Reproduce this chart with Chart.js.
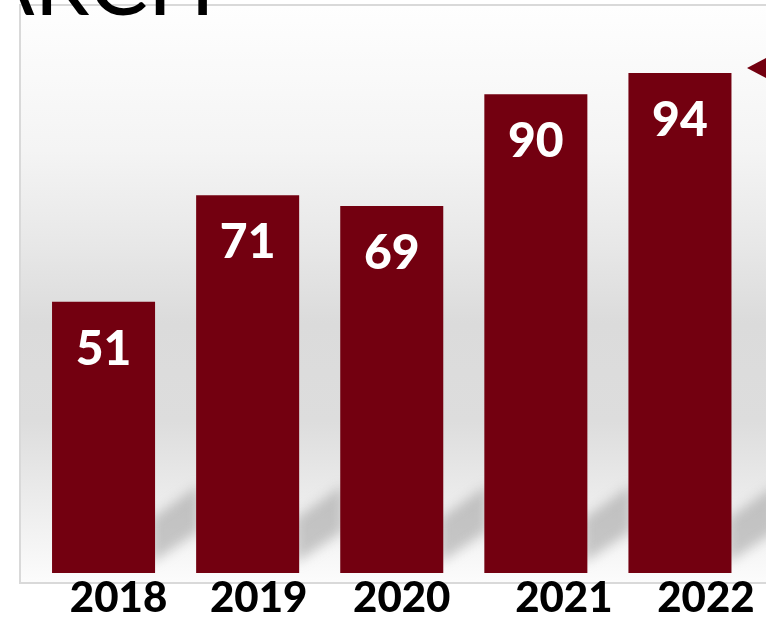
<!DOCTYPE html>
<html>
<head>
<meta charset="utf-8">
<script src="https://cdn.jsdelivr.net/npm/chart.js@4.4.1/dist/chart.umd.min.js"></script>
<style>
  html, body { margin: 0; padding: 0; background: #fff; }
  #wrap { width: 766px; height: 619px; position: relative; }
</style>
</head>
<body>
<div id="wrap"><canvas id="bar-chart" width="766" height="619"></canvas></div>
<script>
let years = ['2018', '2019', '2020', '2021', '2022']
let values = [51, 71, 69, 90, 94]
let titleText = 'ARCH'   // tail of the slide title, cut off by the crop

const barColor = '#730010'
// the year text boxes on the slide are not centred under the bars
const yearShift = [15, 11, 10, 28, 26]

// slide frame + grey gradient behind the bars, plus the cut-off title and marker
const backdrop = {
    id: 'backdrop',
    beforeDraw(chart) {
        const ctx = chart.ctx
        ctx.save()
        let g = ctx.createLinearGradient(0, 6, 0, 583)
        g.addColorStop(0, '#fefefe')
        g.addColorStop(0.25, '#f4f4f4')
        g.addColorStop(0.42, '#e7e7e7')
        g.addColorStop(0.55, '#dbdbdb')
        g.addColorStop(0.72, '#dddddd')
        g.addColorStop(0.82, '#e8e8e8')
        g.addColorStop(0.91, '#f2f2f2')
        g.addColorStop(1, '#fcfcfc')
        ctx.fillStyle = g
        ctx.fillRect(21, 6, 745, 577)

        ctx.strokeStyle = '#d9d9d9'
        ctx.lineWidth = 2
        ctx.beginPath()
        ctx.moveTo(766, 5)
        ctx.lineTo(20, 5)
        ctx.lineTo(20, 583)
        ctx.lineTo(766, 583)
        ctx.stroke()
        ctx.restore()
    },
    // floor shadow that each bar throws towards the next one
    beforeDatasetsDraw(chart) {
        const ctx = chart.ctx
        const bars = chart.getDatasetMeta(0).data
        ctx.save()
        ctx.filter = 'blur(6px)'
        ctx.fillStyle = 'rgba(150,150,150,0.5)'
        bars.forEach(bar => {
            const xr = bar.x + bar.width / 2
            const b = bar.base
            ctx.beginPath()
            ctx.moveTo(xr - 4, b - 10)
            ctx.lineTo(xr - 4, b - 54)
            ctx.lineTo(xr + 44, b - 88)
            ctx.lineTo(xr + 44, b - 42)
            ctx.closePath()
            ctx.fill()
        })
        ctx.restore()
    },
    afterDraw(chart) {
        const ctx = chart.ctx
        ctx.save()
        ctx.fillStyle = '#000'
        ctx.font = '88px Lato'
        ctx.textAlign = 'right'
        ctx.textBaseline = 'alphabetic'
        ctx.fillText(titleText, 215, 15)

        ctx.fillStyle = barColor
        ctx.beginPath()
        ctx.moveTo(747, 68)
        ctx.lineTo(768, 57)
        ctx.lineTo(768, 79)
        ctx.closePath()
        ctx.fill()
        ctx.restore()
    }
}

// white value labels inside the top of each bar, years under the axis
const labels = {
    id: 'labels',
    afterDatasetsDraw(chart) {
        const ctx = chart.ctx
        const bars = chart.getDatasetMeta(0).data
        ctx.save()
        ctx.fillStyle = '#fff'
        ctx.font = '900 48px Lato'
        ctx.textAlign = 'center'
        ctx.textBaseline = 'alphabetic'
        bars.forEach((bar, i) => {
            ctx.fillText(String(values[i]), bar.x, bar.y + 63)
        })

        const xs = chart.scales.x
        ctx.fillStyle = '#000'
        ctx.font = '900 42px Lato'
        years.forEach((y, i) => {
            ctx.fillText(y, xs.getPixelForValue(i) + yearShift[i], 612)
        })
        ctx.restore()
    }
}

new Chart(document.getElementById('bar-chart').getContext('2d'), {
    type: 'bar',
    data: {
        labels: years,
        datasets: [{
            data: values,
            backgroundColor: barColor,
            borderWidth: 0,
            barPercentage: 0.715,
            categoryPercentage: 1
        }]
    },
    options: {
        responsive: false,
        animation: false,
        layout: { padding: { left: 31.5, right: 14, top: 41, bottom: 0 } },
        scales: {
            x: {
                grid: { display: false, drawTicks: false },
                border: { display: false },
                ticks: { display: false },
                afterFit: s => { s.height = 46 }
            },
            y: { display: false, min: 0, max: 100 }
        },
        plugins: {
            legend: { display: false },
            tooltip: { enabled: false }
        }
    },
    plugins: [backdrop, labels]
})
</script>
</body>
</html>
